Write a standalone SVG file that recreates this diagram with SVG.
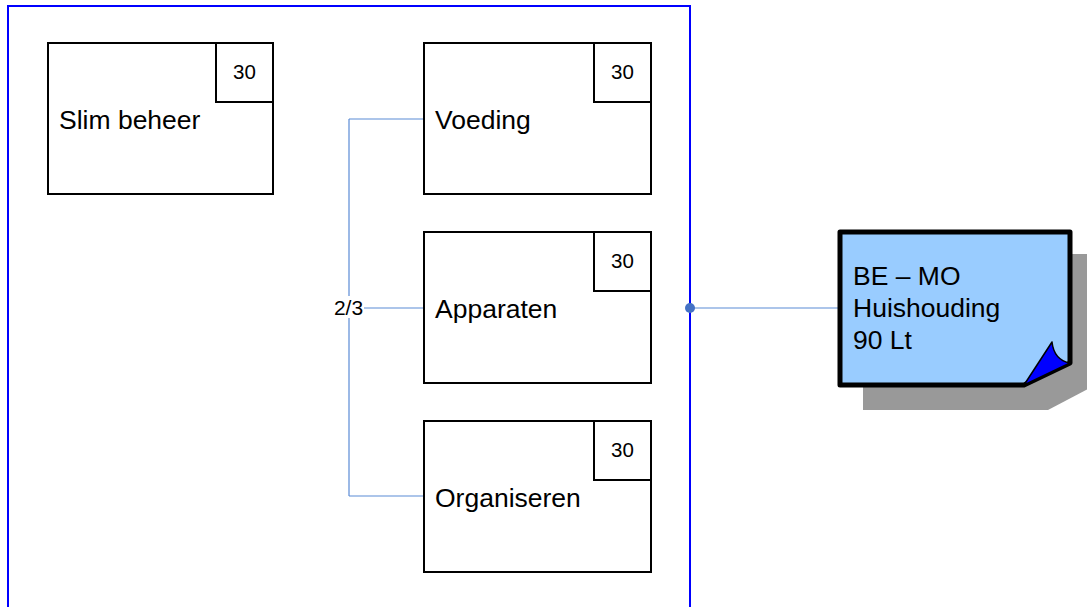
<svg xmlns="http://www.w3.org/2000/svg" width="1087" height="607" viewBox="0 0 1087 607">
  <style>
    .box { fill: #ffffff; stroke: #000000; stroke-width: 2; }
    .lbl { font-family: "Liberation Sans", Arial, sans-serif; font-size: 26.5px; fill: #000000; }
    .num { font-family: "Liberation Sans", Arial, sans-serif; font-size: 20.5px; fill: #000000; text-anchor: middle; }
    .conn { fill: none; stroke: #5b8bd6; stroke-width: 1.2; }
  </style>
  <rect width="1087" height="607" fill="#ffffff"/>

  <!-- container frame -->
  <g id="container">
    <path d="M8,620 V6 H690 V620" fill="none" stroke="#0000ff" stroke-width="2"/>
  </g>

  <!-- connectors -->
  <g id="connectors">
    <path class="conn" d="M349,119 V496 M349,119 H424 M349,308 H424 M349,496 H424"/>
    <path class="conn" d="M690,308 H840"/>
    <circle cx="690" cy="308" r="5" fill="#4472c4"/>
    <rect x="333" y="296" width="31" height="22" fill="#ffffff"/>
    <text x="348.5" y="315" class="lbl" style="font-size:21px" text-anchor="middle">2/3</text>
  </g>

  <g id="slim-beheer">
    <rect class="box" x="48" y="43" width="225" height="151"/>
    <rect class="box" x="216" y="43" width="57" height="59"/>
    <text class="num" x="244.5" y="79">30</text>
    <text class="lbl" x="59" y="129">Slim beheer</text>
  </g>

  <g id="voeding">
    <rect class="box" x="424" y="43" width="227" height="151"/>
    <rect class="box" x="594" y="43" width="57" height="59"/>
    <text class="num" x="622.5" y="79">30</text>
    <text class="lbl" x="435" y="129">Voeding</text>
  </g>

  <g id="apparaten">
    <rect class="box" x="424" y="232" width="227" height="151"/>
    <rect class="box" x="594" y="232" width="57" height="59"/>
    <text class="num" x="622.5" y="268">30</text>
    <text class="lbl" x="435" y="318">Apparaten</text>
  </g>

  <g id="organiseren">
    <rect class="box" x="424" y="421" width="227" height="151"/>
    <rect class="box" x="594" y="421" width="57" height="59"/>
    <text class="num" x="622.5" y="457">30</text>
    <text class="lbl" x="435" y="507">Organiseren</text>
  </g>

  <g id="note">
    <path d="M863,254 H1090 V388 L1048,410 H863 Z" fill="#999999"/>
    <path d="M840,232 H1070 V363 L1024,385 H840 Z" fill="#99ccff" stroke="#000000" stroke-width="5" stroke-linejoin="round"/>
    <path d="M1024,385 L1052,342 Q1054,360 1070,363 Z" fill="#0000ff" stroke="#000000" stroke-width="1.5" stroke-linejoin="round"/>
    <text class="lbl" x="853" y="285">BE – MO</text>
    <text class="lbl" x="853" y="317">Huishouding</text>
    <text class="lbl" x="853" y="349">90 Lt</text>
  </g>
</svg>
